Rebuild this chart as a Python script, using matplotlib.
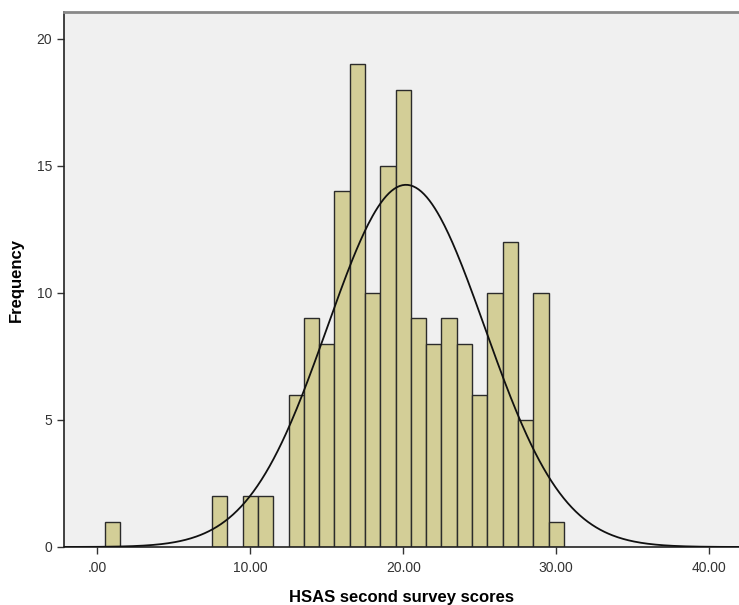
import numpy as np
import matplotlib
matplotlib.use("Agg")
import matplotlib.pyplot as plt

# histogram of HSAS second survey scores (bin width 1, centred on integers)
bin_centers = [1, 8, 10, 11, 13, 14, 15, 16, 17, 18, 19, 20, 21, 22,
               23, 24, 25, 26, 27, 28, 29, 30]
counts = [1, 2, 2, 2, 6, 9, 8, 14, 19, 10, 15, 18, 9, 8,
          9, 8, 6, 10, 12, 5, 10, 1]
xticks = [0, 10, 20, 30, 40]
xtick_labels = [".00", "10.00", "20.00", "30.00", "40.00"]
yticks = [0, 5, 10, 15, 20]

plt.rcParams['font.family'] = ['Liberation Sans', 'DejaVu Sans']

fig = plt.figure(figsize=(7.39, 6.05), dpi=100)
ax = fig.add_axes([64 / 739, 58 / 605, 1 - 64 / 739, (547 - 12) / 605])
ax.set_facecolor('#f0f0f0')

ax.bar(bin_centers, counts, width=1.0, color='#d3ce97',
       edgecolor='#2b2b2b', linewidth=1.0, zorder=2)

# normal curve from the binned data
c = np.array(bin_centers, dtype=float)
n = np.array(counts, dtype=float)
N = n.sum()
mean = (c * n).sum() / N
sd = np.sqrt(((c - mean) ** 2 * n).sum() / (N - 1))
xs = np.linspace(-2.2, 42, 500)
ys = N * 1.0 / (sd * np.sqrt(2 * np.pi)) * np.exp(-0.5 * ((xs - mean) / sd) ** 2)
ax.plot(xs, ys, color='#111111', linewidth=1.3, zorder=3)

ax.set_xlim(-2.18, 41.95)
ax.set_ylim(0, 21.06)
ax.set_xticks(xticks)
ax.set_xticklabels(xtick_labels)
ax.set_yticks(yticks)

ax.tick_params(direction='out', length=5, width=1, colors='#333333',
               labelsize=10)
ax.tick_params(axis='x', pad=5)

for side in ['left', 'bottom']:
    ax.spines[side].set_color('#222222')
    ax.spines[side].set_linewidth(1.2)
ax.spines['top'].set_color('#888888')
ax.spines['top'].set_linewidth(2)
ax.spines['right'].set_visible(False)

ax.set_xlabel('HSAS second survey scores', fontsize=12, fontweight='bold',
              labelpad=11)
ax.set_ylabel('Frequency', fontsize=12, fontweight='bold', labelpad=9)

fig.savefig('out.png', dpi=100)
